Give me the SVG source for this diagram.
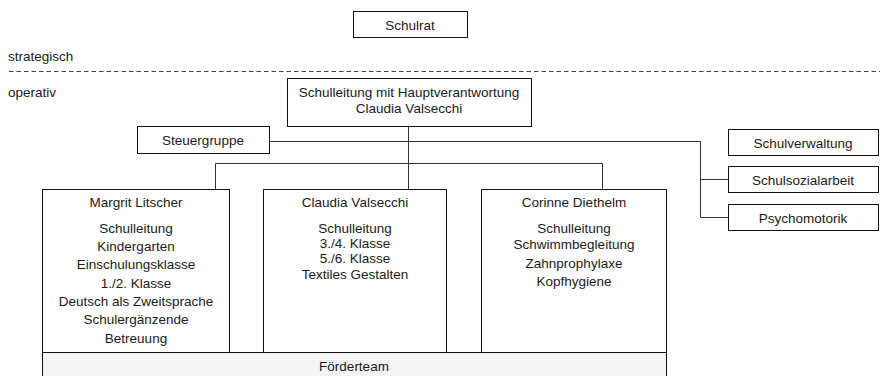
<svg xmlns="http://www.w3.org/2000/svg" width="880" height="376" viewBox="0 0 880 376">
<style>
text{font-family:"Liberation Sans",Arial,sans-serif;font-size:13.5px;fill:#1a1a1a}
.c{text-anchor:middle}
.box{fill:#fff;stroke:#111;stroke-width:1}
.ln{fill:none;stroke:#333;stroke-width:1}
</style>
<rect width="880" height="376" fill="#fff"/>
<text x="8" y="61">strategisch</text>
<text x="8" y="97">operativ</text>
<line x1="9" y1="71.5" x2="880" y2="71.5" stroke="#444" stroke-width="1" stroke-dasharray="4.5,3"/>
<g id="connectors" class="ln">
<path d="M408.5,126 V189"/>
<path d="M269,141.5 H700.5 V217.5 H728"/>
<path d="M700.5,179.5 H728"/>
<path d="M215.5,189 V163.5 H602.5 V189"/>
</g>
<g id="schulrat"><rect class="box" x="353.5" y="11.5" width="114" height="26"/><text class="c" x="410" y="29.5">Schulrat</text></g>
<g id="schulleitung"><rect class="box" x="287.5" y="78.5" width="244" height="48"/><text class="c" x="409" y="96.5">Schulleitung mit Hauptverantwortung</text><text class="c" x="409" y="112.5">Claudia Valsecchi</text></g>
<g id="steuergruppe"><rect class="box" x="137.5" y="126.5" width="132" height="27"/><text class="c" x="203" y="144.5">Steuergruppe</text></g>
<g id="schulverwaltung"><rect class="box" x="728.5" y="129.5" width="150" height="26"/><text class="c" x="803" y="147.5">Schulverwaltung</text></g>
<g id="schulsozialarbeit"><rect class="box" x="728.5" y="166.5" width="150" height="26"/><text class="c" x="803" y="184.5">Schulsozialarbeit</text></g>
<g id="psychomotorik"><rect class="box" x="728.5" y="204.5" width="150" height="26"/><text class="c" x="803" y="222.5">Psychomotorik</text></g>
<g id="litscher"><rect class="box" x="42.5" y="189.5" width="187" height="163"/>
<text class="c" x="136" y="206.5">Margrit Litscher</text>
<text class="c" x="136" y="232.5">Schulleitung</text>
<text class="c" x="136" y="250.5">Kindergarten</text>
<text class="c" x="136" y="268.5">Einschulungsklasse</text>
<text class="c" x="136" y="287.5">1./2. Klasse</text>
<text class="c" x="136" y="305.5">Deutsch als Zweitsprache</text>
<text class="c" x="136" y="324">Schulergänzende</text>
<text class="c" x="136" y="342.5">Betreuung</text></g>
<g id="valsecchi"><rect class="box" x="263.5" y="189.5" width="183" height="163"/>
<text class="c" x="355" y="206.5">Claudia Valsecchi</text>
<text class="c" x="355" y="232.5">Schulleitung</text>
<text class="c" x="355" y="248">3./4. Klasse</text>
<text class="c" x="355" y="263">5./6. Klasse</text>
<text class="c" x="355" y="278.5">Textiles Gestalten</text></g>
<g id="diethelm"><rect class="box" x="481.5" y="189.5" width="185" height="163"/>
<text class="c" x="574" y="206.5">Corinne Diethelm</text>
<text class="c" x="574" y="232.5">Schulleitung</text>
<text class="c" x="574" y="249">Schwimmbegleitung</text>
<text class="c" x="574" y="267.5">Zahnprophylaxe</text>
<text class="c" x="574" y="285.5">Kopfhygiene</text></g>
<g id="foerderteam"><rect x="42.5" y="352.5" width="624" height="30" fill="#f4f4f4" stroke="#111" stroke-width="1"/><text class="c" x="354" y="371">Förderteam</text></g>
</svg>
